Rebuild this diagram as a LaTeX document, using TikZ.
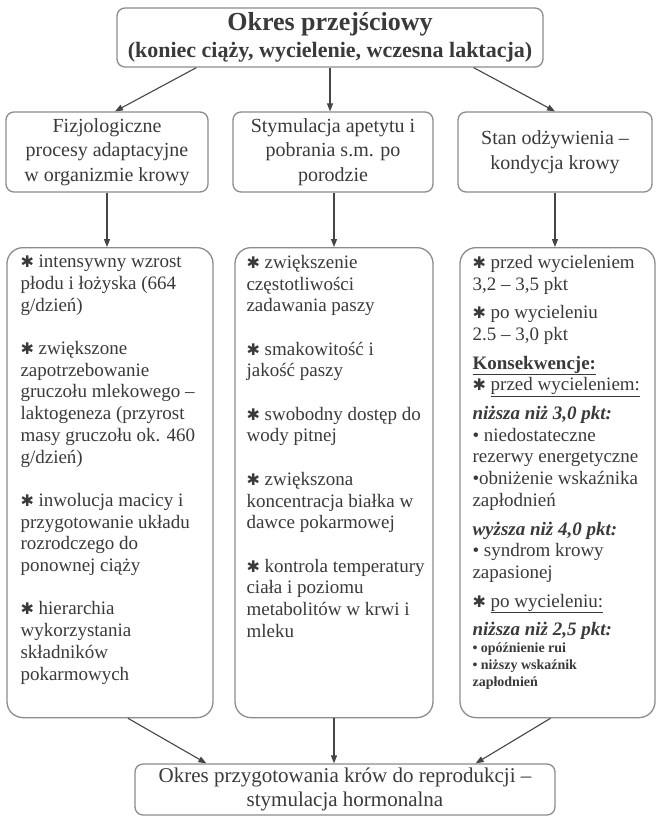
\documentclass[tikz,border=0pt]{standalone}
\usepackage{fontspec}
\setmainfont{Liberation Serif}
\newfontfamily\symfont{DejaVu Sans}
\usetikzlibrary{arrows.meta}
\definecolor{txt}{HTML}{3A3A3A}
\definecolor{edge}{HTML}{8C8C8C}
\definecolor{arrc}{HTML}{454545}
\newcommand\stx{{\symfont\fontsize{16}{16}\selectfont ✱}}
\newcommand\bodyfont{\fontsize{19}{21.7}\selectfont}
\tikzset{
  frame/.style={draw=edge, line width=1.3pt, fill=white},
  smallbox/.style={frame, rounded corners=8pt, align=center, text=txt, inner sep=0pt},
  bigbox/.style={frame, rounded corners=16pt, inner sep=0pt, anchor=north},
  bodytext/.style={anchor=north west, inner sep=0pt, text=txt, align=left},
  conn/.style={draw=arrc, line width=1.1pt, -{Triangle[length=8pt,width=6pt]}}
}
\begin{document}
\begin{tikzpicture}[x=1pt,y=-1pt]
\useasboundingbox (0,0) rectangle (658,817);
% top
\node[smallbox, minimum width=426pt, minimum height=59pt, font=\fontsize{22}{26.5}\selectfont\bfseries] (top) at (330,37.5)
  {{\fontsize{26}{26.5}\selectfont Okres przejściowy}\\
   (koniec ciąży, wycielenie, wczesna laktacja)};
% row 2
\node[smallbox, minimum width=202pt, minimum height=80pt, font=\fontsize{20}{24.5}\selectfont] (l2) at (107,152)
  {Fizjologiczne\\procesy adaptacyjne\\w organizmie krowy};
\node[smallbox, minimum width=200pt, minimum height=80pt, font=\fontsize{20}{24.5}\selectfont] (m2) at (333,152)
  {Stymulacja apetytu i\\pobrania s.m. po\\porodzie};
\node[smallbox, minimum width=194pt, minimum height=80pt, font=\fontsize{20}{24.5}\selectfont] (r2) at (555,152)
  {Stan odżywienia –\\kondycja krowy};
% row 3 boxes
\node[bigbox, minimum width=206pt, minimum height=470pt] (l3) at (110,247) {};
\node[bigbox, minimum width=198pt, minimum height=470pt] (m3) at (334,247) {};
\node[bigbox, minimum width=195pt, minimum height=470pt] (r3) at (557.5,247) {};
% row 3 texts
\node[bodytext] (l3t) at ([xshift=14pt,yshift=-8pt]l3.north west) {\begin{minipage}[t]{200pt}\bodyfont\raggedright
\stx{} intensywny wzrost\\
płodu i łożyska (664\\
g/dzień)\par\vspace{21.7pt}
\stx{} zwiększone\\
zapotrzebowanie\\
gruczołu mlekowego –\\
laktogeneza (przyrost\\
masy gruczołu ok. 460\\
g/dzień)\par\vspace{21.7pt}
\stx{} inwolucja macicy i\\
przygotowanie układu\\
rozrodczego do\\
ponownej ciąży\par\vspace{21.7pt}
\stx{} hierarchia\\
wykorzystania\\
składników\\
pokarmowych\par
\end{minipage}};
\node[bodytext] (m3t) at ([xshift=12pt,yshift=-8pt]m3.north west) {\begin{minipage}[t]{200pt}\bodyfont\raggedright
\stx{} zwiększenie\\
częstotliwości\\
zadawania paszy\par\vspace{21.7pt}
\stx{} smakowitość i\\
jakość paszy\par\vspace{21.7pt}
\stx{} swobodny dostęp do\\
wody pitnej\par\vspace{21.7pt}
\stx{} zwiększona\\
koncentracja białka w\\
dawce pokarmowej\par\vspace{21.7pt}
\stx{} kontrola temperatury\\
ciała i poziomu\\
metabolitów w krwi i\\
mleku\par
\end{minipage}};
\node[bodytext] (r3t) at ([xshift=13pt,yshift=-8pt]r3.north west) {\begin{minipage}[t]{200pt}\bodyfont\raggedright
\stx{} przed wycieleniem\\
3,2 – 3,5 pkt\par\vspace{7pt}
\stx{} po wycieleniu\\
2.5 – 3,0 pkt\par\vspace{7pt}
\textbf{\underline{Konsekwencje:}}\\
\stx{} \underline{przed wycieleniem:}\par\vspace{7pt}
\textbf{\textit{niższa niż 3,0 pkt:}}\\
• niedostateczne\\
rezerwy energetyczne\\
•obniżenie wskaźnika\\
zapłodnień\par\vspace{7pt}
\textbf{\textit{wyższa niż 4,0 pkt:}}\\
• syndrom krowy\\
zapasionej\par\vspace{7pt}
\stx{} \underline{po wycieleniu:}\par\vspace{7pt}
\textbf{\textit{niższa niż 2,5 pkt:}}\par
{\fontsize{14}{17}\selectfont\bfseries • opóźnienie rui\\
• niższy wskaźnik\\
zapłodnień\par}
\end{minipage}};
% bottom
\node[smallbox, minimum width=420pt, minimum height=51pt, font=\fontsize{21}{23.5}\selectfont] (bot) at (345,789.5)
  {Okres przygotowania krów do reprodukcji –\\stymulacja hormonalna};
% connectors
\draw[conn] ([xshift=80pt]top.south west) -- ([xshift=8pt]l2.north);
\draw[conn] (top.south) -- (top.south |- m2.north);
\draw[conn] ([xshift=-70pt]top.south east) -- (r2.north);
\draw[conn] (l2.south) -- (l2.south |- l3.north);
\draw[conn] (m3.north |- m2.south) -- (m3.north);
\draw[conn] (r2.south) -- (r2.south |- r3.north);
\draw[conn] ([xshift=18pt]l3.south) -- ([xshift=72pt]bot.north west);
\draw[conn] (m3.south) -- (m3.south |- bot.north);
\draw[conn] ([xshift=-7pt]r3.south) -- ([xshift=-80pt]bot.north east);
\end{tikzpicture}
\end{document}
